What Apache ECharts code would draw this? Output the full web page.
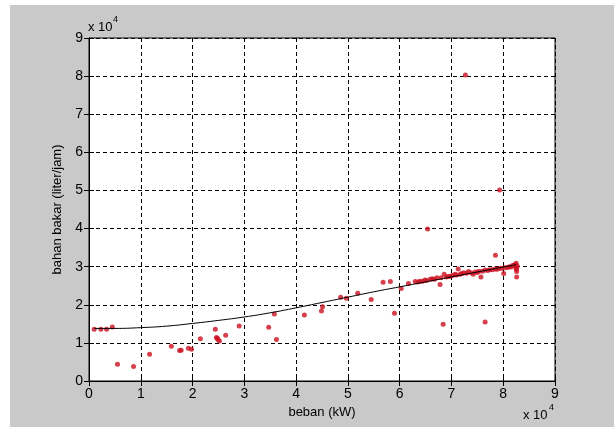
<!DOCTYPE html>
<html>
<head>
<meta charset="utf-8">
<script src="https://cdn.jsdelivr.net/npm/echarts@6/dist/echarts.min.js"></script>
<style>
  html, body { margin: 0; padding: 0; background: #fff; }
  #main { width: 614px; height: 427px; }
</style>
</head>
<body>
<div id="main"></div>
<script>
// values in units of 10^4 (as on the axes)
const bebanPts = [
  0.10, 0.23, 0.34, 0.45, 0.55, 0.86, 1.17, 1.59, 1.75, 1.78,
  1.92, 1.98, 2.15, 2.44, 2.46, 2.49, 2.52, 2.48, 2.64, 2.90,
  3.47, 3.58, 3.62, 4.16, 4.49, 4.51, 4.86, 4.97, 5.19, 5.45,
  5.68, 5.82, 5.90, 6.03, 6.17, 6.30, 6.39, 6.49, 6.54, 6.59,
  6.72, 6.78, 6.84, 6.86, 6.94, 7.07, 7.13, 7.24, 7.27, 7.33,
  7.42, 7.53, 7.57, 7.65, 7.65, 7.74, 7.84, 7.85, 7.93, 7.97,
  8.01, 8.08, 8.18, 8.25, 8.26, 8.26, 8.26, 8.27,
  6.35, 6.44, 6.52, 6.63, 6.67, 6.80, 6.90, 6.98, 7.02, 7.10,
  7.17, 7.20, 7.29, 7.38, 7.46, 7.50, 7.60, 7.70, 7.79, 7.88,
  7.92, 8.03, 8.12, 8.15, 8.21, 8.23, 8.24, 8.25
];
const bahanPts = [
  1.36, 1.36, 1.36, 1.42, 0.44, 0.38, 0.70, 0.91, 0.80, 0.81,
  0.86, 0.83, 1.11, 1.36, 1.14, 1.09, 1.05, 1.12, 1.20, 1.44,
  1.41, 1.76, 1.09, 1.73, 1.84, 1.95, 2.20, 2.17, 2.30, 2.14,
  2.59, 2.61, 1.78, 2.43, 2.56, 2.61, 2.62, 2.65, 3.99, 2.67,
  2.71, 2.53, 1.49, 2.80, 2.74, 2.80, 2.94, 2.84, 8.03, 2.87,
  2.80, 2.88, 2.73, 1.55, 2.91, 2.92, 2.94, 3.30, 5.01, 2.96,
  2.82, 2.98, 3.03, 3.09, 2.96, 2.87, 2.73, 3.02,
  2.60, 2.62, 2.64, 2.68, 2.67, 2.71, 2.73, 2.75, 2.77, 2.78,
  2.80, 2.82, 2.83, 2.84, 2.86, 2.85, 2.88, 2.90, 2.92, 2.93,
  2.95, 2.97, 3.00, 2.99, 3.04, 3.06, 3.00, 2.93
];
// fitted curve
const fitX = [0.1, 0.5, 1, 1.5, 2, 2.5, 3, 3.5, 4, 4.5, 5, 5.5, 6, 6.5, 7, 7.5, 8, 8.25];
const fitY = [1.38, 1.38, 1.40, 1.44, 1.51, 1.59, 1.68, 1.79, 1.92, 2.06, 2.20, 2.34, 2.47, 2.60, 2.73, 2.86, 2.99, 3.05];
const ticks = ['0', '1', '2', '3', '4', '5', '6', '7', '8', '9'];

const font = 'Arial, "Liberation Sans", sans-serif';
const chart = echarts.init(document.getElementById('main'));

const mainAxis = (name, gap) => ({
  type: 'value', min: 0, max: 9, interval: 1,
  name: name, nameLocation: 'middle', nameGap: gap,
  nameTextStyle: { color: '#000', fontSize: 13, fontFamily: font },
  axisLine: { show: true, lineStyle: { color: '#000', width: 1 } },
  axisTick: { show: true, inside: true, length: 5, lineStyle: { color: '#000' } },
  axisLabel: { color: '#000', fontSize: 14, fontFamily: font, margin: 6,
    formatter: v => ticks[Math.round(v)] },
  splitLine: { show: true, lineStyle: { color: '#000', type: [4, 3], width: 1 } }
});
const sideAxis = (pos) => ({
  type: 'value', min: 0, max: 9, interval: 1, position: pos,
  axisLine: { show: true, lineStyle: { color: '#000', width: 1 } },
  axisTick: { show: true, inside: true, length: 5, lineStyle: { color: '#000' } },
  axisLabel: { show: false },
  splitLine: { show: false }
});

chart.setOption({
  backgroundColor: '#fff',
  animation: false,
  grid: { left: 89, right: 59, top: 38, bottom: 46, show: true,
    backgroundColor: '#fff', borderColor: '#000', borderWidth: 1 },
  xAxis: [mainAxis('beban (kW)', 24), sideAxis('top')],
  yAxis: [mainAxis('bahan bakar (liter/jam)', 21), sideAxis('right')],
  graphic: [
    { type: 'rect', z: -10, shape: { x: 10, y: 5, width: 604, height: 422 },
      style: { fill: '#c9c9c9' } },
    { type: 'text', left: 88, top: 21, style: { text: 'x 10', fill: '#000', font: '13px ' + font } },
    { type: 'text', left: 113, top: 15, style: { text: '4', fill: '#000', font: '9px ' + font } },
    { type: 'text', left: 523, top: 409, style: { text: 'x 10', fill: '#000', font: '13px ' + font } },
    { type: 'text', left: 549, top: 403, style: { text: '4', fill: '#000', font: '9px ' + font } }
  ],
  series: [
    {
      type: 'scatter',
      data: bebanPts.map((x, i) => [x, bahanPts[i]]),
      symbol: 'circle', symbolSize: 5,
      itemStyle: { color: '#cc1020' },
      z: 2
    },
    {
      type: 'line',
      data: fitX.map((x, i) => [x, fitY[i]]),
      smooth: true, showSymbol: false,
      lineStyle: { color: '#000', width: 1 },
      z: 3
    }
  ]
});
</script>
</body>
</html>
